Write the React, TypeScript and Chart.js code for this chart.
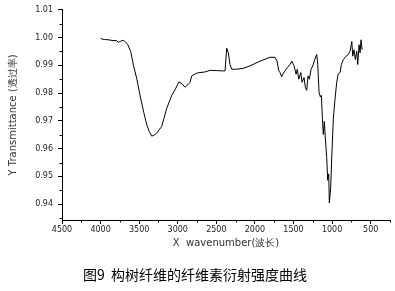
import React, { useEffect, useRef } from "react";
import { Chart, registerables } from "chart.js";

Chart.register(...registerables);

// Wavenumber (cm^-1) and transmittance
const wavenumbers: number[] = [
  4000, 3950, 3900, 3839, 3800, 3770, 3740, 3706, 3680, 3649, 3610, 3576, 3530, 3489, 3440, 3402,
  3370, 3337, 3300, 3273, 3208, 3143, 3078, 3030, 2984, 2940, 2906, 2870, 2841, 2819, 2754, 2712,
  2650, 2582, 2500, 2420, 2387, 2366, 2345, 2323, 2301, 2236, 2154, 2064, 1934, 1804, 1740, 1714,
  1690, 1675, 1653, 1630, 1610, 1580, 1545, 1523, 1493, 1467, 1451, 1432, 1406, 1390, 1364, 1347,
  1329, 1312, 1295, 1273, 1251, 1225, 1199, 1186, 1169, 1152, 1139, 1126, 1114, 1101, 1088, 1070,
  1057, 1044, 1036, 1018, 1005, 984, 962, 940, 923, 897, 880, 854, 819, 790, 768, 745,
  733, 716, 699, 681, 668, 651, 638, 625, 612,
];
const transmittance: number[] = [
  0.9996, 0.9993, 0.9992, 0.9989, 0.999, 0.9983, 0.9987, 0.999, 0.9985, 0.9975, 0.995, 0.9903, 0.985, 0.9792, 0.973, 0.9686,
  0.9662, 0.9645, 0.965, 0.9656, 0.968, 0.9745, 0.9792, 0.9815, 0.9841, 0.9832, 0.9821, 0.983, 0.9839, 0.9862, 0.9872, 0.9874,
  0.9876, 0.9882, 0.9881, 0.988, 0.988, 0.9962, 0.9945, 0.9903, 0.9886, 0.9886, 0.9889, 0.9898, 0.9915, 0.9929, 0.9929, 0.9915,
  0.988, 0.9874, 0.9859, 0.9872, 0.988, 0.9892, 0.9903, 0.9915, 0.9898, 0.9868, 0.9886, 0.985, 0.9874, 0.9839, 0.9856, 0.9821,
  0.981, 0.9862, 0.985, 0.9886, 0.9898, 0.9921, 0.9939, 0.9903, 0.9803, 0.9786, 0.9792, 0.9709, 0.9651, 0.9698, 0.9639, 0.9568,
  0.9486, 0.9509, 0.9404, 0.9462, 0.9568, 0.9709, 0.978, 0.9839, 0.9868, 0.9874, 0.9903, 0.9921, 0.9933, 0.9939, 0.9951, 0.9986,
  0.9933, 0.9956, 0.9921, 0.9951, 0.9903, 0.9974, 0.9945, 0.9992, 0.9956,
];

const xMajorTicks: number[] = [4500, 4000, 3500, 3000, 2500, 2000, 1500, 1000, 500];
const xMinorTicks: number[] = [4250, 3750, 3250, 2750, 2250, 1750, 1250, 750, 250];
const yMajorTicks: number[] = [0.94, 0.95, 0.96, 0.97, 0.98, 0.99, 1.0, 1.01];
const yMinorTicks: number[] = [0.935, 0.945, 0.955, 0.965, 0.975, 0.985, 0.995, 1.005];

const xTitle = "X  wavenumber(波长)";
const yTitle = "Y Transmittance (透过率)";
const caption = "图9  构树纤维的纤维素衍射强度曲线";

const minorTicksPlugin = {
  id: "minorTicks",
  afterDraw(chart: any) {
    const { ctx, scales } = chart;
    const x = scales.x;
    const y = scales.y;
    ctx.save();
    ctx.strokeStyle = "#000";
    ctx.lineWidth = 1;
    ctx.beginPath();
    for (const v of xMinorTicks) {
      const px = Math.round(x.getPixelForValue(v)) + 0.5;
      ctx.moveTo(px, x.top);
      ctx.lineTo(px, x.top + 2.5);
    }
    for (const v of yMinorTicks) {
      const py = Math.round(y.getPixelForValue(v)) + 0.5;
      ctx.moveTo(y.right, py);
      ctx.lineTo(y.right - 2.5, py);
    }
    ctx.stroke();
    ctx.restore();
  },
};

export default function App() {
  const canvasRef = useRef<HTMLCanvasElement | null>(null);

  useEffect(() => {
    document.body.style.margin = "0";
    const canvas = canvasRef.current;
    if (!canvas) return;
    const points = wavenumbers.map((w, i) => ({ x: w, y: transmittance[i] }));
    const tickFont = { family: "DejaVu Sans", size: 8 };
    const chart = new Chart(canvas, {
      type: "line",
      data: {
        datasets: [
          {
            data: points,
            borderColor: "#000",
            borderWidth: 1,
            pointRadius: 0,
            tension: 0,
            fill: false,
          },
        ],
      },
      plugins: [minorTicksPlugin],
      options: {
        animation: false,
        responsive: false,
        devicePixelRatio: 1,
        layout: { padding: { top: 6, right: 5, left: 0, bottom: 0 } },
        plugins: {
          legend: { display: false },
          tooltip: { enabled: false },
          title: {
            display: true,
            position: "bottom",
            text: caption,
            color: "#000",
            font: { family: "Noto Sans CJK SC", size: 14, weight: "normal" },
            padding: { top: 0, bottom: 7.6 },
          },
        },
        scales: {
          x: {
            type: "linear",
            reverse: true,
            min: 250,
            max: 4500,
            afterBuildTicks: (scale: any) => {
              scale.ticks = xMajorTicks.map((v) => ({ value: v }));
            },
            afterFit: (scale: any) => {
              scale.height = 46.6;
            },
            ticks: {
              font: tickFont,
              color: "#222",
              padding: 1,
              maxRotation: 0,
              autoSkip: false,
              callback: (v: any) => String(v),
            },
            grid: {
              display: true,
              drawOnChartArea: false,
              drawTicks: true,
              tickLength: 4,
              color: "#000",
            },
            border: { display: true, color: "#000", width: 1 },
            title: {
              display: true,
              text: xTitle,
              color: "#333",
              font: { family: "DejaVu Sans", size: 10 },
              padding: { top: 0, bottom: 17.6 },
            },
          },
          y: {
            type: "linear",
            min: 0.9343,
            max: 1.01,
            afterBuildTicks: (scale: any) => {
              scale.ticks = yMajorTicks.map((v) => ({ value: v }));
            },
            afterFit: (scale: any) => {
              scale.width = 62;
            },
            ticks: {
              font: tickFont,
              color: "#222",
              padding: 5,
              autoSkip: false,
              callback: (v: any) => Number(v).toFixed(2),
            },
            grid: {
              display: true,
              drawOnChartArea: false,
              drawTicks: true,
              tickLength: 4,
              color: "#000",
            },
            border: { display: true, color: "#000", width: 1 },
            title: {
              display: true,
              text: yTitle,
              color: "#333",
              font: { family: "DejaVu Sans", size: 10 },
              padding: { top: 7, bottom: 0 },
            },
          },
        },
      },
    } as any);
    return () => chart.destroy();
  }, []);

  return (
    <div style={{ width: 395, height: 291, background: "#fff" }}>
      <canvas ref={canvasRef} width={395} height={291} style={{ display: "block" }} />
    </div>
  );
}
